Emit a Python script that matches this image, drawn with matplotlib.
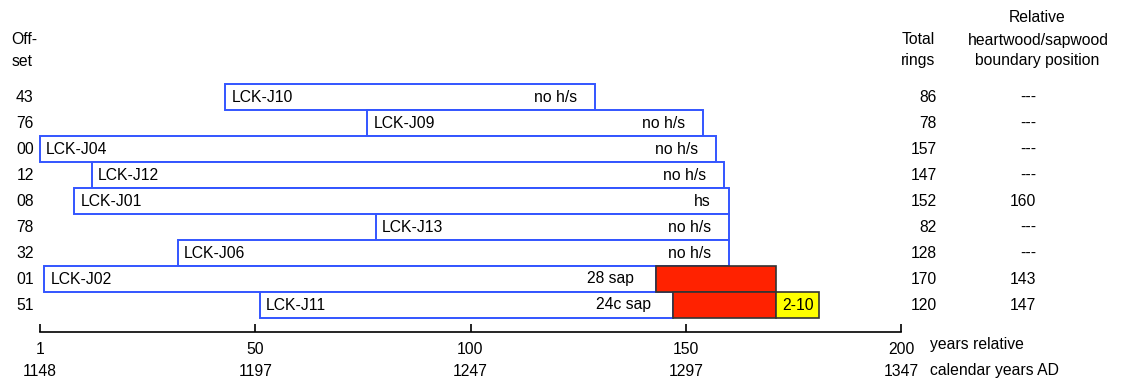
import matplotlib
matplotlib.use("Agg")
import matplotlib.pyplot as plt
from matplotlib.patches import Rectangle

plt.rcParams['font.family'] = ['Liberation Sans', 'DejaVu Sans']

# Tree-ring samples, top to bottom
names = ['LCK-J10', 'LCK-J09', 'LCK-J04', 'LCK-J12', 'LCK-J01',
         'LCK-J13', 'LCK-J06', 'LCK-J02', 'LCK-J11']
offsets = [43, 76, 0, 12, 8, 78, 32, 1, 51]
total_rings = [86, 78, 157, 147, 152, 82, 128, 170, 120]
sapwood_rings = [0, 0, 0, 0, 0, 0, 0, 28, 24]
end_notes = ['no h/s', 'no h/s', 'no h/s', 'no h/s', 'hs',
             'no h/s', 'no h/s', '28 sap', '24c sap']
hs_boundary = ['---', '---', '---', '---', '160', '---', '---', '143', '147']
missing_max = [0, 0, 0, 0, 0, 0, 0, 0, 10]
missing_label = ['', '', '', '', '', '', '', '', '2-10']

rel_ticks = [0, 50, 100, 150, 200]
rel_tick_labels = ['1', '50', '100', '150', '200']
calendar_labels = ['1148', '1197', '1247', '1297', '1347']

W, H = 1121, 385
fig = plt.figure(figsize=(W / 100, H / 100), dpi=100)
axis_y_px = 331.5
ax = fig.add_axes([0, (H - axis_y_px) / H, 1, axis_y_px / H])

px_per_year = 4.305
x0_px = 40
ax.set_xlim(-x0_px / px_per_year, (W - x0_px) / px_per_year)
row_px, row0_px = 26, 97
ax.set_ylim((axis_y_px - row0_px) / row_px, -row0_px / row_px)

blue = '#3355ff'
fs = 11.3

def px_to_year(px):
    return (px - x0_px) / px_per_year

for i, name in enumerate(names):
    start = offsets[i]
    end = offsets[i] + total_rings[i]
    heart_end = end - sapwood_rings[i]
    ax.add_patch(Rectangle((start, i - 0.5), heart_end - start, 1,
                           facecolor='white', edgecolor=blue, lw=1.4, zorder=2))
    if sapwood_rings[i]:
        ax.add_patch(Rectangle((heart_end, i - 0.5), sapwood_rings[i], 1,
                               facecolor='#ff2200', edgecolor='#333333',
                               lw=1.2, zorder=3))
    if missing_max[i]:
        ax.add_patch(Rectangle((end, i - 0.5), missing_max[i], 1,
                               facecolor='#ffff00', edgecolor='#333333',
                               lw=1.2, zorder=3))
        ax.text(end + missing_max[i] / 2, i, missing_label[i], ha='center',
                va='center', fontsize=fs, zorder=4)
    ax.text(start + 1.45, i, name, ha='left', va='center', fontsize=fs, zorder=4)
    gap = 5.1 if sapwood_rings[i] else 4.2
    ax.text(heart_end - gap, i, end_notes[i], ha='right', va='center',
            fontsize=fs, zorder=4)
    ax.text(px_to_year(25), i, '%02d' % offsets[i], ha='center', va='center',
            fontsize=fs)
    ax.text(px_to_year(936.5), i, str(total_rings[i]), ha='right',
            va='center', fontsize=fs)
    ax.text(px_to_year(1036), i, hs_boundary[i], ha='right', va='center',
            fontsize=fs)

def row_of(px):
    return (px - row0_px) / row_px

# Column headers
ax.text(px_to_year(11.5), row_of(40), 'Off-', ha='left', va='center', fontsize=fs)
ax.text(px_to_year(11.5), row_of(61), 'set', ha='left', va='center', fontsize=fs)
ax.text(px_to_year(918), row_of(40), 'Total', ha='center', va='center', fontsize=fs)
ax.text(px_to_year(918), row_of(61), 'rings', ha='center', va='center', fontsize=fs)
ax.text(px_to_year(1037.5), row_of(18), 'Relative', ha='center', va='center', fontsize=fs)
ax.text(px_to_year(1038), row_of(40), 'heartwood/sapwood', ha='center',
        va='center', fontsize=fs)
ax.text(px_to_year(1037.5), row_of(61), 'boundary position', ha='center',
        va='center', fontsize=fs)

# Relative-year scale along the bottom
for s in ['top', 'left', 'right']:
    ax.spines[s].set_visible(False)
ax.spines['bottom'].set_bounds(rel_ticks[0], rel_ticks[-1])
ax.spines['bottom'].set_linewidth(1.2)
ax.set_yticks([])
ax.set_xticks(rel_ticks)
ax.set_xticklabels(rel_tick_labels, fontsize=fs)
ax.tick_params(axis='x', direction='in', length=6, width=1.2, pad=7.5)
ax.patch.set_visible(False)

for t, lab in zip(rel_ticks, calendar_labels):
    ax.text(t, row_of(371), lab, ha='center', va='center', fontsize=fs,
            clip_on=False)
ax.text(px_to_year(930), row_of(345), 'years relative', ha='left',
        va='center', fontsize=fs, clip_on=False)
ax.text(px_to_year(930), row_of(371), 'calendar years AD', ha='left',
        va='center', fontsize=fs, clip_on=False)

fig.savefig('out.png', dpi=100, facecolor='white')
